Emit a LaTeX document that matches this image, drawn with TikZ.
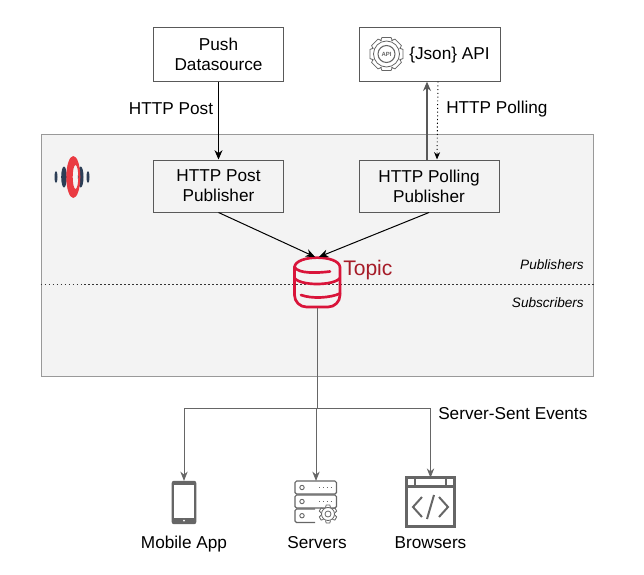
\documentclass[tikz,border=0pt]{standalone}
\usepackage{fontspec}
\setmainfont{Liberation Sans}
\usepackage{xcolor}
\usepackage{tikz}
\usetikzlibrary{positioning,arrows.meta}
\definecolor{panelgray}{HTML}{F3F3F3}
\definecolor{panelline}{HTML}{999999}
\definecolor{boxline}{HTML}{595959}
\definecolor{icongray}{HTML}{666666}
\definecolor{topicred}{HTML}{D9143A}
\definecolor{topicdark}{HTML}{A61C28}
\definecolor{logored}{HTML}{EA3B42}
\definecolor{logonavy}{HTML}{2C3E56}

\begin{document}
\begin{tikzpicture}[
  x=0.75pt,y=-0.75pt,
  box/.style={draw=boxline,line width=0.75pt,fill=#1,align=center,font=\fontsize{12.9}{15}\selectfont},
  box/.default=white,
  label/.style={font=\fontsize{12.9}{15}\selectfont,inner sep=0pt},
  side/.style={font=\fontsize{10.2}{12}\selectfont\itshape,inner sep=0pt,anchor=east},
  slot/.style={inner sep=0pt,minimum width=#1},
  arrow/.style={-{Stealth[length=7pt,width=6pt]},line width=0.75pt,black},
  graph/.style={-{Stealth[length=7pt,width=5.5pt]},line width=0.6pt,icongray},
  icon/.style={draw=icongray,line width=0.9pt,rounded corners=1.2pt}
]
  \useasboundingbox (0,0) rectangle (644,575);
  \node[draw=panelline,fill=panelgray,line width=0.75pt,inner sep=0pt,minimum width=414pt,
    minimum height=181pt] (panel) at (317,255.5) {};
  \draw[line width=0.7pt,dash pattern=on 0.8pt off 2.2pt,black!80] (panel.west |- 0,284) coordinate (split)
    -- (panel.east |- 0,284) coordinate (splitend);

  \node[box,minimum width=98pt,minimum height=40pt] (source) at (218.5,54.5) {Push\\Datasource};
  \node[box,minimum width=106pt,minimum height=40pt] (api) at (430,54.5) {};
  \node[box=panelgray,minimum width=98pt,minimum height=39pt] (postpub) at (218.5,186) {HTTP Post\\Publisher};
  \node[box=panelgray,minimum width=105pt,minimum height=39pt] (pollpub) at (429,186) {HTTP Polling\\Publisher};
  \node[slot=35pt,minimum height=38pt] (topic) at (317,282.5) {};

  % api gear
  \foreach \a in {0,45,...,315} {
    \draw[icongray,line width=0.6pt,rotate around={\a:(386.5,54)}]
      (380.5,41) -- (382,37.5) -- (391,37.5) -- (392.5,41);
  }
  \draw[icongray,line width=0.6pt] (386.5,54) circle[radius=13];
  \draw[icongray,line width=0.8pt,fill=white] (386.5,54) circle[radius=8.5];
  \node[inner sep=0pt,font=\fontsize{4.5}{4}\selectfont\bfseries,text=icongray] (apitag) at (386.5,54) {API};
  \node[label,anchor=west] (apitext) at (409,55) {\{Json\} API};

  % logo
  \fill[logonavy] (56,177) ellipse[x radius=1.5,y radius=6];
  \fill[logonavy] (88,177) ellipse[x radius=1.5,y radius=6];
  \fill[logonavy] (64,177) ellipse[x radius=2.8,y radius=10.5];
  \fill[logonavy] (80.7,177) ellipse[x radius=2.8,y radius=10.5];
  \fill[logored,even odd rule] (73.3,177) ellipse[x radius=7,y radius=21]
    (75.5,177) ellipse[x radius=2.8,y radius=12];

  % topic cylinder
  \begin{scope}[draw=topicred,line width=2pt,line cap=round]
    \draw[rounded corners=9pt] (294.5,267) -- (294.5,307) -- (340,307) -- (340,267);
    \draw (294.5,267) .. controls (296,254.5) and (338.5,254.5) .. (340,267);
    \draw (294.5,267) .. controls (298,274) and (318,273) .. (330,271.5);
    \draw (294.5,278) .. controls (300,286) and (334,286) .. (340,278);
    \draw (301,295) .. controls (312,299) and (330,298) .. (340,293.5);
  \end{scope}
  \node[font=\fontsize{15.8}{17}\selectfont,text=topicdark,inner sep=0pt,anchor=west] (topictext) at (343,270) {Topic};

  \node[side] (pubtext) at (584,265) {Publishers};
  \node[side] (subtext) at (584,303) {Subscribers};

  \node[slot=18pt,minimum height=32pt] (app) at (184,502.5) {};
  \node[slot=32pt,minimum height=32pt] (servers) at (316,502.5) {};
  \node[slot=36pt,minimum height=36pt] (browsers) at (430.5,502) {};
  \fill[icongray,rounded corners=1.5pt] (app.north west) rectangle (app.south east);
  \fill[white] (174.2,485) rectangle (193.8,518);
  \fill[white] (184,520.5) circle[radius=1];

  % server rack
  \foreach \y/\x in {481/336.5,495/336.5} {
    \draw[icon] (295,\y) rectangle (\x,\y+13);
    \draw[icongray,line width=0.7pt] (302,\y+6.5) circle[radius=2.2];
    \draw[icongray,line width=0.9pt,dotted] (319,\y+6.5) -- (332,\y+6.5);
  }
  \draw[icon] (315,522.5) -- (295,522.5) -- (295,509) -- (315,509);
  \draw[icongray,line width=0.7pt] (302,515.7) circle[radius=2.2];
  \foreach \a in {0,60,...,300} {
    \draw[icongray,line width=0.6pt,rotate around={\a:(328,514)}]
      (325.5,507.5) -- (326.2,505) -- (329.8,505) -- (330.5,507.5);
  }
  \draw[icongray,line width=0.6pt,fill=white] (328,514) circle[radius=6.5];
  \draw[icongray,line width=0.6pt] (328,514) circle[radius=3];

  % browser window
  \draw[icongray,line width=2pt] (browsers.north west) rectangle (browsers.south east);
  \draw[icongray,line width=1.6pt] (browsers.west |- 0,486.5) -- (browsers.east |- 0,486.5);
  \draw[icongray,line width=1.6pt] (415,478) -- (415,486.5) (446,478) -- (446,486.5);
  \draw[icongray,line width=1.5pt] (422,497) -- (413,507) -- (422,517)
    (439,497) -- (448,507) -- (439,517) (434,495) -- (427,519);

  \node[label,below=9pt of app] (apptext) {Mobile App};
  \node[label,anchor=north] (servertext) at (317,536.5) {Servers};
  \node[label,anchor=north] (browsertext) at (430.5,536.5) {Browsers};
  \node[label,anchor=west] (sse) at (438,414) {Server-Sent Events};
  \node[label] (posttext) at (171,109) {HTTP Post};
  \node[label,anchor=west] (polltext) at (446,109) {HTTP Polling};

  \draw[arrow] (source) -- (postpub);
  \draw[arrow,line width=1pt,boxline] ([xshift=-1.5pt]pollpub.north) -- ([xshift=-2.25pt]api.south);
  \draw[-{Stealth[length=5.5pt,width=4.5pt]},line width=0.7pt,dash pattern=on 0.8pt off 2pt]
    ([xshift=6pt]api.south) -- ([xshift=6pt]pollpub.north);
  \draw[arrow] (postpub.south) -- ([xshift=-1.5pt]topic.north);
  \draw[arrow] (pollpub.south) -- ([xshift=1.5pt]topic.north);

  \coordinate (fork) at (topic.south |- 0,408);
  \draw[line width=0.75pt,icongray] (topic.south) -- (fork);
  \draw[graph] (fork) -| (app.north);
  \draw[graph] (servers.north |- fork) -- (servers.north);
  \draw[graph] (fork) -| (browsers.north);
\end{tikzpicture}
\end{document}
